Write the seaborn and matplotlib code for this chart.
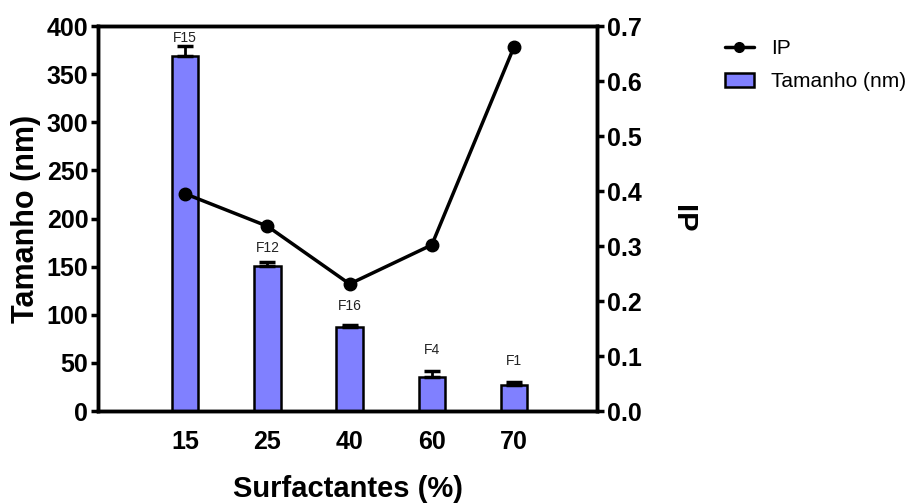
import matplotlib
matplotlib.use("Agg")
import matplotlib.pyplot as plt
import seaborn as sns
import pandas as pd
from matplotlib.lines import Line2D
from matplotlib.patches import Patch

categories = ["15", "25", "40", "60", "70"]
formulas = ["F15", "F12", "F16", "F4", "F1"]
tamanho = [369, 151, 87, 35, 27]
tamanho_err = [10, 4, 2, 7, 3]
ip = [0.395, 0.336, 0.231, 0.302, 0.662]
label_offsets = [1, 5, 9, 10, 10]

sns.set_theme(style="white")
plt.rcParams['font.family'] = ['Liberation Sans', 'DejaVu Sans']
plt.rcParams['text.color'] = 'black'
plt.rcParams['axes.labelcolor'] = 'black'
plt.rcParams['xtick.color'] = 'black'
plt.rcParams['ytick.color'] = 'black'

df = pd.DataFrame({"Surfactantes": categories, "Tamanho": tamanho, "IP": ip})

fig = plt.figure(figsize=(9.17, 5.03), dpi=100)
ax = fig.add_axes([0.1069, 0.1829, 0.5442, 0.7654])
bar_color = "#8080FF"
sns.barplot(data=df, x="Surfactantes", y="Tamanho", ax=ax, color=bar_color,
            width=0.32, edgecolor="black", linewidth=1.8, errorbar=None,
            saturation=1)
xs = list(range(len(categories)))
ax.errorbar(xs, tamanho, yerr=[[0]*len(tamanho), tamanho_err], fmt="none",
            ecolor="black", elinewidth=2, capsize=6, capthick=2.5, zorder=1)
for x, v, e, lab, off in zip(xs, tamanho, tamanho_err, formulas, label_offsets):
    ax.annotate(lab, (x, v + e), xytext=(0, off), textcoords="offset points",
                ha="center", va="bottom", fontsize=10, color="#222222")

ax.set_xlim(-1.06, 5.01)
ax.set_ylim(0, 400)
ax.set_yticks(range(0, 401, 50))
ax.set_xlabel("Surfactantes (%)", fontsize=21, fontweight="bold", labelpad=15)
ax.set_ylabel("Tamanho (nm)", fontsize=22, fontweight="bold", labelpad=4)

ax2 = ax.twinx()
ax2.plot(xs, ip, color="black", linewidth=2.5, marker="o", markersize=9, zorder=3)
ax2.set_ylim(0, 0.7)
ax2.set_yticks([0.0, 0.1, 0.2, 0.3, 0.4, 0.5, 0.6, 0.7])
ax2.set_yticklabels(["0.0", "0.1", "0.2", "0.3", "0.4", "0.5", "0.6", "0.7"])
ax2.set_ylabel("IP", fontsize=21, fontweight="bold", rotation=270, labelpad=40)
ax2.set_xlim(-1.06, 5.01)

for a in (ax, ax2):
    for s in a.spines.values():
        s.set_linewidth(2.5)
        s.set_color("black")
    a.tick_params(axis="y", length=5, width=2.5, pad=2, labelsize=18, color="black")
    for t in a.get_yticklabels():
        t.set_fontweight("bold")
ax.tick_params(axis="x", length=0, pad=14, labelsize=18)
for t in ax.get_xticklabels():
    t.set_fontweight("bold")

handles = [Line2D([0], [0], color="black", lw=2.5, marker="o", markersize=7),
           Patch(facecolor=bar_color, edgecolor="black", linewidth=1.8)]
fig.legend(handles, ["IP", "Tamanho (nm)"], loc="upper left",
           bbox_to_anchor=(0.77, 0.96), frameon=False, fontsize=15,
           handlelength=1.4, labelspacing=0.7)

fig.savefig("out.png", dpi=100)
